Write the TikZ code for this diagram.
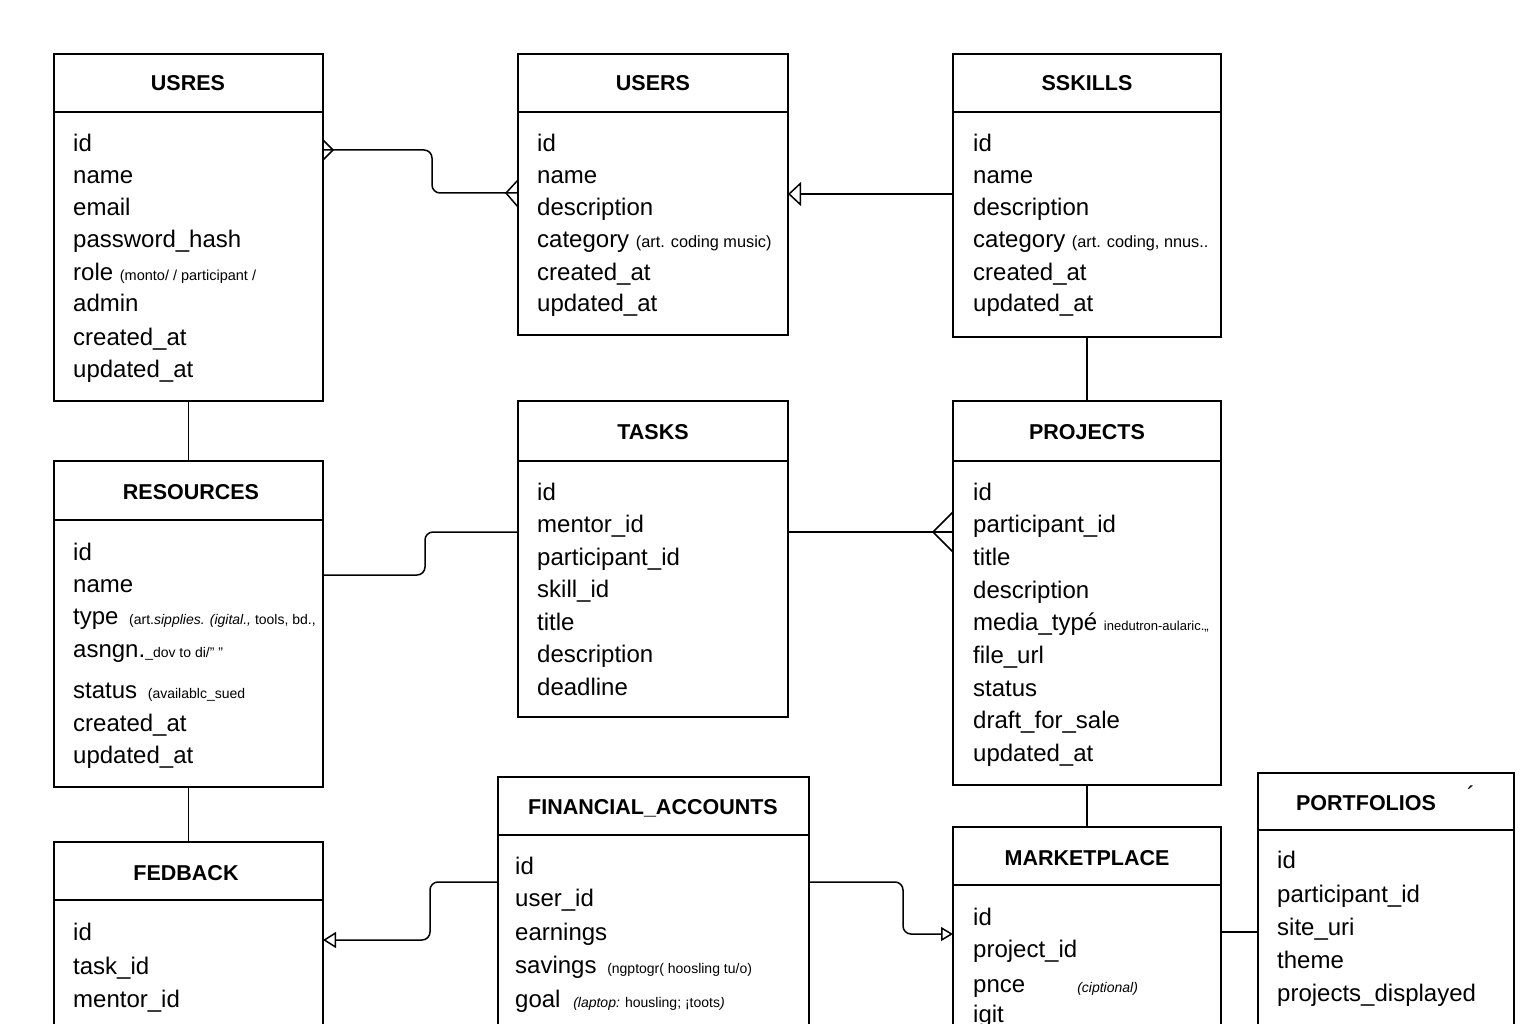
\documentclass[tikz,border=0pt]{standalone}
\usepackage{fontspec}
\setmainfont{Liberation Sans}
\usetikzlibrary{arrows.meta}
\newcommand\mynote{\fontsize{14}{16}\selectfont}
\newcommand\mynoteb{\fontsize{16.3}{18}\selectfont}
\newcommand\entbox[8]{%
  \node[ent, minimum width={(#4-#2)*1pt}, minimum height={(#5-#3)*1pt}] (#1) at (#2,#3) {};
  \draw[hdr] (#2,#6) -- (#4,#6);
  \node[ttl] (#1-title) at (#8) {#7};
}
\begin{document}
\begin{tikzpicture}[x=1pt,y=-1pt,
  ent/.style={draw, line width=1.6pt, anchor=north west, inner sep=0pt, outer sep=0pt},
  hdr/.style={line width=1.6pt},
  ttl/.style={font=\fontsize{21.5}{24}\selectfont\bfseries, inner sep=0pt},
  fld/.style={font=\fontsize{24}{26}\selectfont, anchor=base west, inner sep=0pt},
  conn/.style={line width=1.5pt, rounded corners=8pt},
  cf/.style={line width=1.5pt},
  tri/.style={-{Triangle[open, length=13pt, width=24pt, line width=1.5pt]}},
  tris/.style={-{Triangle[open, length=13pt, width=16pt, line width=1.5pt]}},
]
\useasboundingbox[fill=white] (0,0) rectangle (1536,1024);

\entbox{usres}{54}{54}{323}{401}{112}{USRES}{188,83}
\entbox{users}{518}{54}{788}{335}{112}{USERS}{653,83}
\entbox{sskills}{953}{54}{1221}{337}{112}{SSKILLS}{1087,83}
\entbox{resources}{54}{461}{323}{787}{520}{RESOURCES}{191,492}
\entbox{tasks}{518}{401}{788}{717}{461}{TASKS}{653,432}
\entbox{projects}{953}{401}{1221}{785}{461}{PROJECTS}{1087,432}
\entbox{fedback}{54}{842}{323}{1060}{900}{FEDBACK}{186,873}
\entbox{financial}{498}{777}{809}{1060}{835}{FINANCIAL\_ACCOUNTS}{653,808}
\entbox{marketplace}{953}{827}{1221}{1060}{885}{MARKETPLACE}{1087,858}
\entbox{portfolios}{1258}{773}{1514}{1060}{830}{PORTFOLIOS}{1366,803}
\node[font=\fontsize{24}{24}\selectfont, inner sep=0pt] (portfolios-mark) at (1471,795) {´};

% fields
\foreach \yy/\lbl in {144/id,176/name,208/email,240/password\_hash,272/{role {\fontsize{14.5}{16}\selectfont (monto/ / participant /}},304/admin,337/created\_at,369/updated\_at}
  \node[fld] (usres-\yy) at (73,\yy+8) {\lbl};
\foreach \yy/\lbl in {144/id,176/name,208/description,240/{category {\mynoteb (art. coding music)}},272/created\_at,304/updated\_at}
  \node[fld] (users-\yy) at (537,\yy+8) {\lbl};
\foreach \yy/\lbl in {144/id,176/name,208/description,240/{category {\mynoteb (art. coding, nnus..}},272/created\_at,304/updated\_at}
  \node[fld] (sskills-\yy) at (973,\yy+8) {\lbl};
\foreach \yy/\lbl in {552/id,584/name,616/{type\hspace{4pt} {\mynote (art.\textit{sipplies. (igital.,} tools, bd.,}},649/{asngn.{\mynote \_dov to di/" "}},690/{status\hspace{4pt} {\mynote (availablc\_sued}},723/created\_at,755/updated\_at}
  \node[fld] (resources-\yy) at (73,\yy+8) {\lbl};
\foreach \yy/\lbl in {492/id,524/mentor\_id,557/participant\_id,589/skill\_id,622/title,654/description,687/deadline}
  \node[fld] (tasks-\yy) at (537,\yy+8) {\lbl};
\foreach \yy/\lbl in {492/id,524/participant\_id,557/title,590/description,622/{media\_typé {\fontsize{13}{15}\selectfont inedutron-aularic.,,}},655/file\_url,688/status,720/draft\_for\_sale,753/updated\_at}
  \node[fld] (projects-\yy) at (973,\yy+8) {\lbl};
\foreach \yy/\lbl in {932/id,966/task\_id,999/mentor\_id}
  \node[fld] (fedback-\yy) at (73,\yy+8) {\lbl};
\foreach \yy/\lbl in {866/id,898/user\_id,932/earnings,965/{savings\hspace{4pt} {\mynote (ngptogr( hoosling tu/o)}},999/{goal\hspace{6pt} {\mynote \textit{(laptop:} housling; ¡toots\textit{)}}}}
  \node[fld] (financial-\yy) at (515,\yy+8) {\lbl};
\foreach \yy/\lbl in {917/id,949/project\_id,984/{pnce\hspace{52pt}{\mynote \textit{(ciptional)}}},1014/igit}
  \node[fld] (marketplace-\yy) at (973,\yy+8) {\lbl};
\foreach \yy/\lbl in {860/id,894/participant\_id,927/site\_uri,960/theme,993/projects\_displayed}
  \node[fld] (portfolios-\yy) at (1277,\yy+8) {\lbl};

% connectors
\draw[conn] ([yshift=-96pt]usres.north east) -- ++(109,0) -- ++(0,43) -- ([yshift=-139pt]users.north west);
\draw[cf] ([yshift=-86pt]usres.north east) -- ++(10,10) -- ++(-10,10);
\draw[cf] ([yshift=-126pt]users.north west) -- ++(-12,13) -- ++(12,14);

\draw[conn, tri] ([yshift=-140pt]sskills.north west) -- ([yshift=-140pt]users.north east);

\draw[conn] (usres.south) -- (resources.north -| usres.south);
\draw[conn] (sskills.south) -- (projects.north);
\draw[conn] (projects.south) -- (marketplace.north);
\draw[conn] (resources.south) -- (fedback.north -| resources.south);

\draw[conn] ([yshift=-114pt]resources.north east) -- ++(102,0) -- ++(0,-43) -- ([yshift=-131pt]tasks.north west);
\draw[conn] ([yshift=-131pt]tasks.north east) -- ([yshift=-131pt]projects.north west);
\draw[cf] ([yshift=-111pt]projects.north west) -- ++(-20,20) -- ++(20,20);

\draw[conn, tris] ([yshift=-105pt]financial.north west) -- ++(-68,0) -- ++(0,58) -- ([yshift=-98pt]fedback.north east);
\draw[conn, {-{Triangle[open, length=12pt, width=14pt, line width=1.5pt]}}] ([yshift=-105pt]financial.north east) -- ++(94,0) -- ++(0,52) -- ([yshift=-107pt]marketplace.north west);
\draw[conn] ([yshift=-105pt]marketplace.north east) -- ([yshift=-159pt]portfolios.north west);
\end{tikzpicture}
\end{document}
